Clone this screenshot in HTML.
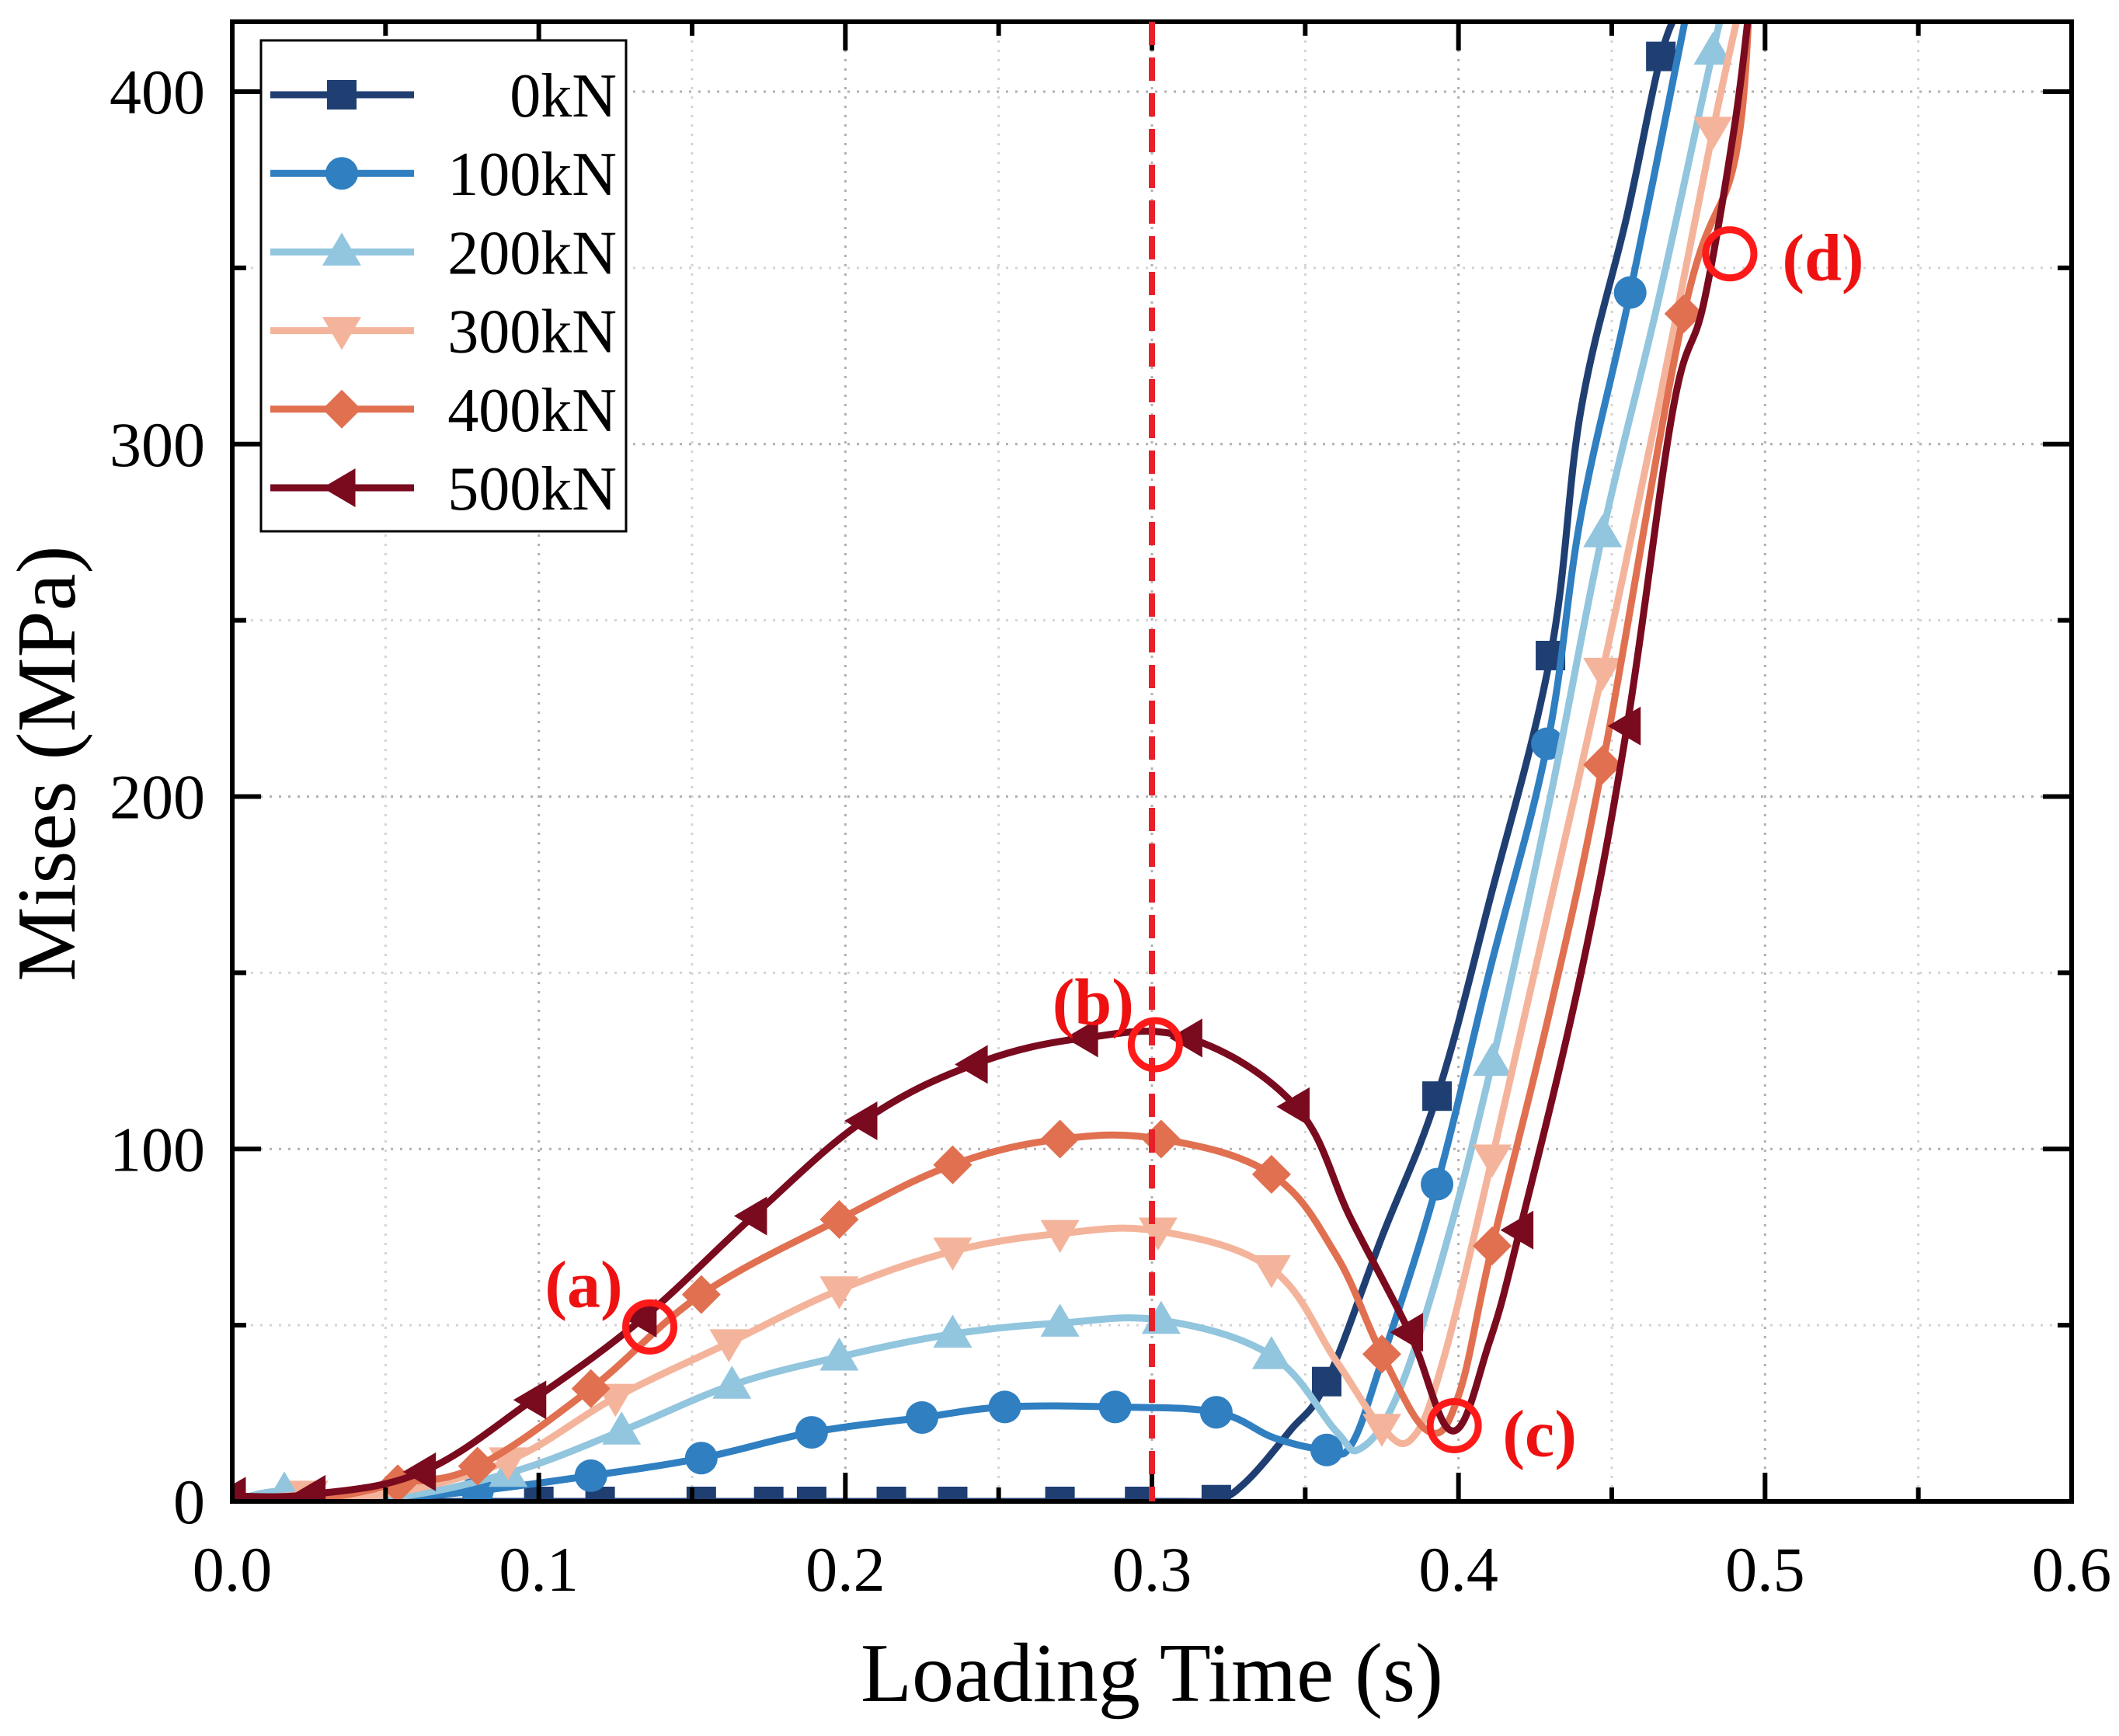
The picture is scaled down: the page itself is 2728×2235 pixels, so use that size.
<!DOCTYPE html>
<html><head><meta charset="utf-8"><style>
html,body{margin:0;padding:0;background:#fff}
svg text{font-family:"Liberation Serif",serif}
</style></head><body>
<svg id="chart" width="2728" height="2230" viewBox="0 0 2728 2230" xmlns="http://www.w3.org/2000/svg">
<defs><clipPath id="clip"><rect x="299" y="28" width="2368" height="1905"/></clipPath></defs>
<g id="grid"></g>
<g id="series" clip-path="url(#clip)"></g>
<g id="axes"></g>
<g id="annot"></g>
<g id="legend"></g>
</svg>
<script>
const xTicks=[0,0.1,0.2,0.3,0.4,0.5,0.6];
const xTickLabels=["0.0","0.1","0.2","0.3","0.4","0.5","0.6"];
const yTicks=[0,100,200,300,400];
const yTickLabels=["0","100","200","300","400"];
const seriesNames=["0kN","100kN","200kN","300kN","400kN","500kN"];
const s0x=[0,0.1,0.2,0.3,0.32,0.33,0.345,0.357,0.375,0.393,0.41,0.43,0.44,0.455,0.466,0.473];
const s0y=[0,0,0,0,0.5,5,20,34,75,115,170,240,310,365,410,425];
const m0x=[0.08,0.1,0.12,0.153,0.175,0.189,0.215,0.235,0.27,0.296,0.321,0.357,0.393,0.43,0.466];
const m0y=[0,0,0,0,0,0,0,0,0,0,0.5,34,115,240,410];
const s1x=[0,0.05,0.08,0.117,0.153,0.189,0.225,0.252,0.288,0.321,0.34,0.357,0.365,0.375,0.393,0.41,0.429,0.44,0.456,0.475];
const s1y=[0,1,3,7.3,12.3,19.6,23.8,26.8,26.8,25.3,18,14.6,16,40,90,150,215,280,343,425];
const m1x=[0.02,0.08,0.117,0.153,0.189,0.225,0.252,0.288,0.321,0.357,0.393,0.429,0.456];
const m1y=[1,3,7.3,12.3,19.6,23.8,26.8,26.8,25.3,14.6,90,215,343];
const s2x=[0,0.017,0.05,0.09,0.127,0.163,0.198,0.235,0.27,0.303,0.339,0.36,0.368,0.38,0.395,0.411,0.43,0.447,0.465,0.483,0.487];
const s2y=[0,3,1,8,20,33,41,47.5,50.6,51.4,41.4,20,15,30,70,124.6,200,274.6,340,411.5,425];
const m2x=[0.017,0.09,0.127,0.163,0.198,0.235,0.27,0.303,0.339,0.411,0.447,0.483];
const m2y=[3,8,20,33,41,47.5,50.6,51.4,41.4,124.6,274.6,411.5];
const s3x=[0,0.025,0.05,0.09,0.125,0.162,0.198,0.235,0.27,0.302,0.339,0.36,0.375,0.385,0.395,0.411,0.43,0.447,0.465,0.483,0.492];
const s3y=[0,2,2,11.5,29.5,45,60,71,76,76.7,66,40,21,18,40,97.4,170,235.5,310,389,425];
const m3x=[0.025,0.09,0.125,0.162,0.198,0.235,0.27,0.302,0.339,0.375,0.411,0.447,0.483];
const m3y=[2,11.5,29.5,45,60,71,76,76.7,66,21,97.4,235.5,389];
const s4x=[0,0.03,0.054,0.08,0.117,0.153,0.198,0.235,0.27,0.303,0.339,0.36,0.375,0.39,0.4,0.411,0.43,0.447,0.4735,0.49,0.495];
const s4y=[0,1,5,10,32,58.7,80,95.5,102.8,102.8,92.8,70,41.8,20,30,72.5,140,209,337,380,425];
const m4x=[0.054,0.08,0.117,0.153,0.198,0.235,0.27,0.303,0.339,0.375,0.411,0.447,0.4735];
const m4y=[5,10,32,58.7,80,95.5,102.8,102.8,92.8,41.8,72.5,209,337];
const s5x=[0,0.026,0.062,0.098,0.134,0.17,0.206,0.242,0.278,0.312,0.347,0.365,0.384,0.398,0.41,0.42,0.44,0.455,0.47,0.48,0.49,0.495];
const s5y=[1.5,2,8.4,28.8,52,81,108,124,131.5,131.5,112,80,48,20,45,77,150,220,310,340,390,425];
const m5x=[0,0.026,0.062,0.098,0.134,0.17,0.206,0.242,0.278,0.312,0.347,0.384,0.42,0.455];
const m5y=[1.5,2,8.4,28.8,52,81,108,124,131.5,131.5,112,48,77,220];
const circX=[0.1362,0.3011,0.3986,0.4885];
const circY=[49.5,129.6,21.5,354];
const circLabels=["(a)","(b)","(c)","(d)"];
const dashX=0.3;

const NS="http://www.w3.org/2000/svg";
const L=299,R=2667,T=28,B=1933;
const X=v=>L+(v/0.6)*(R-L);
const Y=v=>B-(v/400)*(B-118);
function mk(tag,attrs,parent){const e=document.createElementNS(NS,tag);for(const k in attrs)e.setAttribute(k,attrs[k]);parent.appendChild(e);return e;}
const grid=document.getElementById('grid'),axes=document.getElementById('axes'),ser=document.getElementById('series'),ann=document.getElementById('annot'),leg=document.getElementById('legend');

for(let i=1;i<12;i++){const v=i*0.05;const g=mk('line',{x1:X(v),x2:X(v),y1:T,y2:B,stroke:i%2?'#d4d4d4':'#b0b0b0','stroke-width':3,'stroke-dasharray':'3 9'},grid);
}
for(let i=1;i<9;i++){const v=i*50;const g=mk('line',{x1:L,x2:R,y1:Y(v),y2:Y(v),stroke:i%2?'#d4d4d4':'#b0b0b0','stroke-width':3,'stroke-dasharray':'3 9'},grid);
}

const colors=["#1f3f73","#2f7fc1","#92c5de","#f4b49b","#e07050","#7a0a1e"];
const shapes=["square","circle","up","down","diamond","left"];
const SX=[s0x,s1x,s2x,s3x,s4x,s5x],SY=[s0y,s1y,s2y,s3y,s4y,s5y],MX=[m0x,m1x,m2x,m3x,m4x,m5x],MY=[m0y,m1y,m2y,m3y,m4y,m5y];
function path(xs,ys){const p=xs.map((x,i)=>[X(x),Y(ys[i])]);let d=`M${p[0][0]},${p[0][1]}`;
for(let i=0;i<p.length-1;i++){const p0=p[Math.max(0,i-1)],p1=p[i],p2=p[i+1],p3=p[Math.min(p.length-1,i+2)];const t=0.18;
d+=` C${p1[0]+(p2[0]-p0[0])*t},${p1[1]+(p2[1]-p0[1])*t} ${p2[0]-(p3[0]-p1[0])*t},${p2[1]-(p3[1]-p1[1])*t} ${p2[0]},${p2[1]}`;}return d;}
function marker(shape,cx,cy,c,parent){const s=19;let e;
if(shape=='square')e=mk('rect',{x:cx-s,y:cy-s,width:2*s,height:2*s,fill:c},parent);
else if(shape=='circle')e=mk('circle',{cx,cy,r:s+2,fill:c},parent);
else{let pts;const r=s+6;
if(shape=='up')pts=[[cx,cy-r],[cx+r,cy+r*0.7],[cx-r,cy+r*0.7]];
if(shape=='down')pts=[[cx,cy+r],[cx+r,cy-r*0.7],[cx-r,cy-r*0.7]];
if(shape=='diamond')pts=[[cx,cy-r],[cx+r,cy],[cx,cy+r],[cx-r,cy]];
if(shape=='left')pts=[[cx-r,cy],[cx+r*0.7,cy-r],[cx+r*0.7,cy+r]];
e=mk('polygon',{points:pts.map(p=>p.join(',')).join(' '),fill:c},parent);}
return e;}
for(let k=0;k<6;k++){const g=mk('g',{},ser);
const pl=mk('path',{d:path(SX[k],SY[k]),fill:'none',stroke:colors[k],'stroke-width':9,'stroke-linejoin':'round'},g);

MX[k].forEach((x,i)=>{const m=marker(shapes[k],X(x),Y(MY[k][i]),colors[k],g);
});}

const fr=mk('rect',{x:L,y:T,width:R-L,height:B-T,fill:'none',stroke:'#000','stroke-width':6},axes);

for(let i=0;i<=12;i++){const v=i*0.05,len=i%2?18:37;
mk('line',{x1:X(v),x2:X(v),y1:B,y2:B-len,stroke:'#000','stroke-width':6},axes);
mk('line',{x1:X(v),x2:X(v),y1:T,y2:T+len,stroke:'#000','stroke-width':6},axes);}
for(let i=0;i<=8;i++){const v=i*50,len=i%2?18:37;
mk('line',{x1:L,x2:L+len,y1:Y(v),y2:Y(v),stroke:'#000','stroke-width':6},axes);
mk('line',{x1:R,x2:R-len,y1:Y(v),y2:Y(v),stroke:'#000','stroke-width':6},axes);}
xTicks.forEach((v,i)=>{const t=mk('text',{x:X(v),y:2048,'font-size':82,'text-anchor':'middle'},axes);t.textContent=xTickLabels[i];
});
yTicks.forEach((v,i)=>{const t=mk('text',{x:264,y:Y(v)+28,'font-size':82,'text-anchor':'end'},axes);t.textContent=yTickLabels[i];
});
const xt=mk('text',{x:1483,y:2190,'font-size':108,'text-anchor':'middle'},axes);xt.textContent='Loading Time (s)';

const yt=mk('text',{x:0,y:0,'font-size':108,'text-anchor':'middle',transform:'translate(96,983) rotate(-90)'},axes);yt.textContent='Mises (MPa)';


const dl=mk('line',{x1:X(dashX),x2:X(dashX),y1:T,y2:B,stroke:'#e8202a','stroke-width':8,'stroke-dasharray':'30 16'},ann);

const lblOff=[[-85,-55],[-80,-55],[110,10],[120,5]];
circX.forEach((x,i)=>{const c=mk('circle',{cx:X(x),cy:Y(circY[i]),r:31,fill:'none',stroke:'#ff1a1a','stroke-width':9},ann);

const t=mk('text',{x:X(x)+lblOff[i][0],y:Y(circY[i])+lblOff[i][1]+29,'font-size':86,'font-weight':'bold',fill:'#ee1111','text-anchor':'middle'},ann);t.textContent=circLabels[i];
});

const lb=mk('rect',{x:336,y:52,width:470,height:632,fill:'#fff',stroke:'#000','stroke-width':3},leg);

seriesNames.forEach((n,k)=>{const y=122+k*101.2;const g=mk('g',{},leg);

mk('line',{x1:348,x2:533,y1:y,y2:y,stroke:colors[k],'stroke-width':9},g);
marker(shapes[k],440,y,colors[k],g);
const t=mk('text',{x:794,y:y+28,'font-size':80,'text-anchor':'end'},g);t.textContent=n;});
</script>
</body></html>
